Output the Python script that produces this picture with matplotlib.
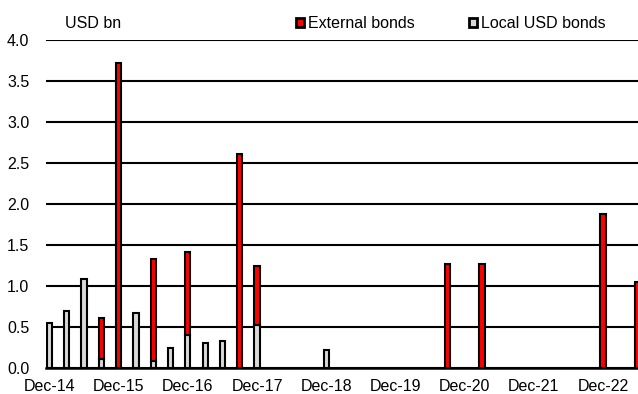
import numpy as np
import pandas as pd
import matplotlib
matplotlib.use("Agg")
import matplotlib.pyplot as plt
from matplotlib.patches import Patch

plt.rcParams["font.family"] = ["Liberation Sans", "DejaVu Sans"]
plt.rcParams["font.size"] = 11.5

# quarterly, Dec-14 .. Jun-23
quarters = pd.date_range("2014-12-01", "2023-06-01", freq="3MS")
labels = [d.strftime("%b-%y") for d in quarters]

# USD bn
local_usd = [0.55, 0.69, 1.08, 0.11, 0.0, 0.67, 0.08, 0.24, 0.40, 0.30,
             0.33, 0.0, 0.52, 0.0, 0.0, 0.0, 0.21, 0.0, 0.0, 0.0,
             0.0, 0.0, 0.0, 0.0, 0.0, 0.0, 0.0, 0.0, 0.0, 0.0,
             0.0, 0.0, 0.0, 0.0, 0.0]
external = [0.0, 0.0, 0.0, 0.50, 3.72, 0.0, 1.25, 0.0, 1.01, 0.0,
            0.0, 2.60, 0.72, 0.0, 0.0, 0.0, 0.0, 0.0, 0.0, 0.0,
            0.0, 0.0, 0.0, 1.26, 0.0, 1.26, 0.0, 0.0, 0.0, 0.0,
            0.0, 0.0, 1.88, 0.0, 1.05]

local_usd = np.array(local_usd)
external = np.array(external)
x = np.arange(len(labels))

fig = plt.figure(figsize=(6.38, 3.94), dpi=100)
ax = fig.add_axes([46 / 638, 1 - 367.7 / 394, 1 - 46 / 638, (367.7 - 39.7) / 394])

w = 0.3
lm = local_usd > 0
em = external > 0
ax.bar(x[lm], local_usd[lm], width=w, color="#d9d9d9", edgecolor="black", lw=1.5, zorder=3)
ax.bar(x[em], external[em], bottom=local_usd[em], width=w, color="#ff0000",
       edgecolor="black", lw=1.5, zorder=3)

ax.set_ylim(0, 4.0)
ax.set_yticks(np.arange(0, 4.01, 0.5))
ax.set_yticklabels([f"{v:.1f}" for v in np.arange(0, 4.01, 0.5)])
ax.set_xlim(-0.2, 34.02)
ax.set_xticks(x[::4])
ax.set_xticklabels(labels[::4])
ax.tick_params(axis="both", length=0)
ax.tick_params(axis="y", pad=12)
ax.tick_params(axis="x", pad=8)

ax.grid(axis="y", color="black", lw=1.5, zorder=1)
ax.set_axisbelow(True)
for s in ["top", "right", "left"]:
    ax.spines[s].set_visible(False)
ax.spines["bottom"].set_color("black")
ax.spines["bottom"].set_linewidth(1.8)
ax.spines["bottom"].set_zorder(4)

fig.text(65 / 638, 1 - 24 / 394, "USD bn", ha="left", va="center")

handles = [Patch(facecolor="#ff0000", edgecolor="black", lw=2, label="External bonds"),
           Patch(facecolor="#d9d9d9", edgecolor="black", lw=2, label="Local USD bonds")]
fig.legend(handles=handles, loc="center left", bbox_to_anchor=(296 / 638, 1 - 24 / 394),
           ncol=2, frameon=False, borderpad=0, borderaxespad=0,
           handlelength=0.5, handleheight=0.5, handletextpad=0.25, columnspacing=3.4)

fig.savefig("out.png", dpi=100)
